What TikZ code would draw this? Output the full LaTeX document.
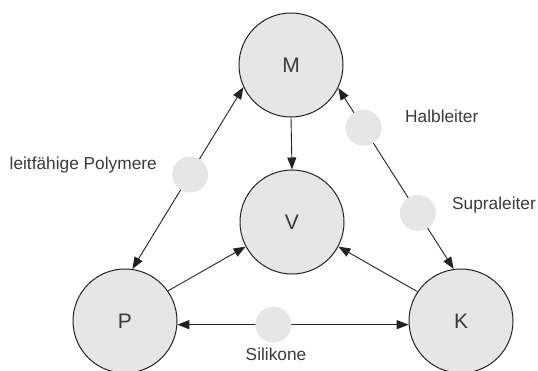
\documentclass[tikz,border=0pt]{standalone}
\usepackage{fontspec}
\setmainfont{Liberation Sans}
\usetikzlibrary{arrows.meta}
\definecolor{fillgray}{HTML}{E6E6E6}
\definecolor{linegray}{HTML}{222222}
\definecolor{textgray}{HTML}{3A3A3A}
\begin{document}
\begin{tikzpicture}[x=1pt,y=-1pt,
  bigc/.style={circle, draw=linegray, line width=1pt, fill=fillgray, minimum size=104pt, inner sep=0pt,
    text=textgray, font=\fontsize{21}{24}\selectfont},
  dotc/.style={circle, fill=fillgray, minimum size=36pt, inner sep=0pt},
  lbl/.style={text=textgray, font=\fontsize{17.3}{20}\selectfont, inner sep=0pt},
  conn/.style={line width=0.9pt, draw=linegray},
  tip/.style={-{Triangle[length=12pt,width=9pt]}},
  bitip/.style={{Triangle[length=12pt,width=9pt]}-{Triangle[length=12pt,width=9pt]}}
]
\useasboundingbox (0,0) rectangle (538,371);
\node[bigc] (M) at (291,65) {M};
\node[bigc] (V) at (292,222) {V};
\node[bigc] (P) at (125,321) {P};
\node[bigc] (K) at (461,321) {K};

\draw[conn,bitip] (P.82) -- node[dotc, pos=0.52] (d1) {} (M.205);
\draw[conn,bitip] (M.334) -- node[dotc, pos=0.22] (d2) {} node[dotc, pos=0.69] (d3) {} (K.98);
\draw[conn,bitip] (P.-4) -- node[dotc, pos=0.415] (d4) {} (K.184);
\draw[conn,tip] (M.south) -- (V.north);
\draw[conn,tip] (P.35) -- (V.208);
\draw[conn,tip] (K.146) -- (V.332);

\node[lbl, anchor=base east] (t1) at (157,170) {leitfähige Polymere};
\node[lbl, anchor=base west] (t2) at (405,123) {Halbleiter};
\node[lbl, anchor=base west] (t3) at (452,210) {Supraleiter};
\node[lbl, anchor=base] (t4) at (276,360) {Silikone};
\end{tikzpicture}
\end{document}
